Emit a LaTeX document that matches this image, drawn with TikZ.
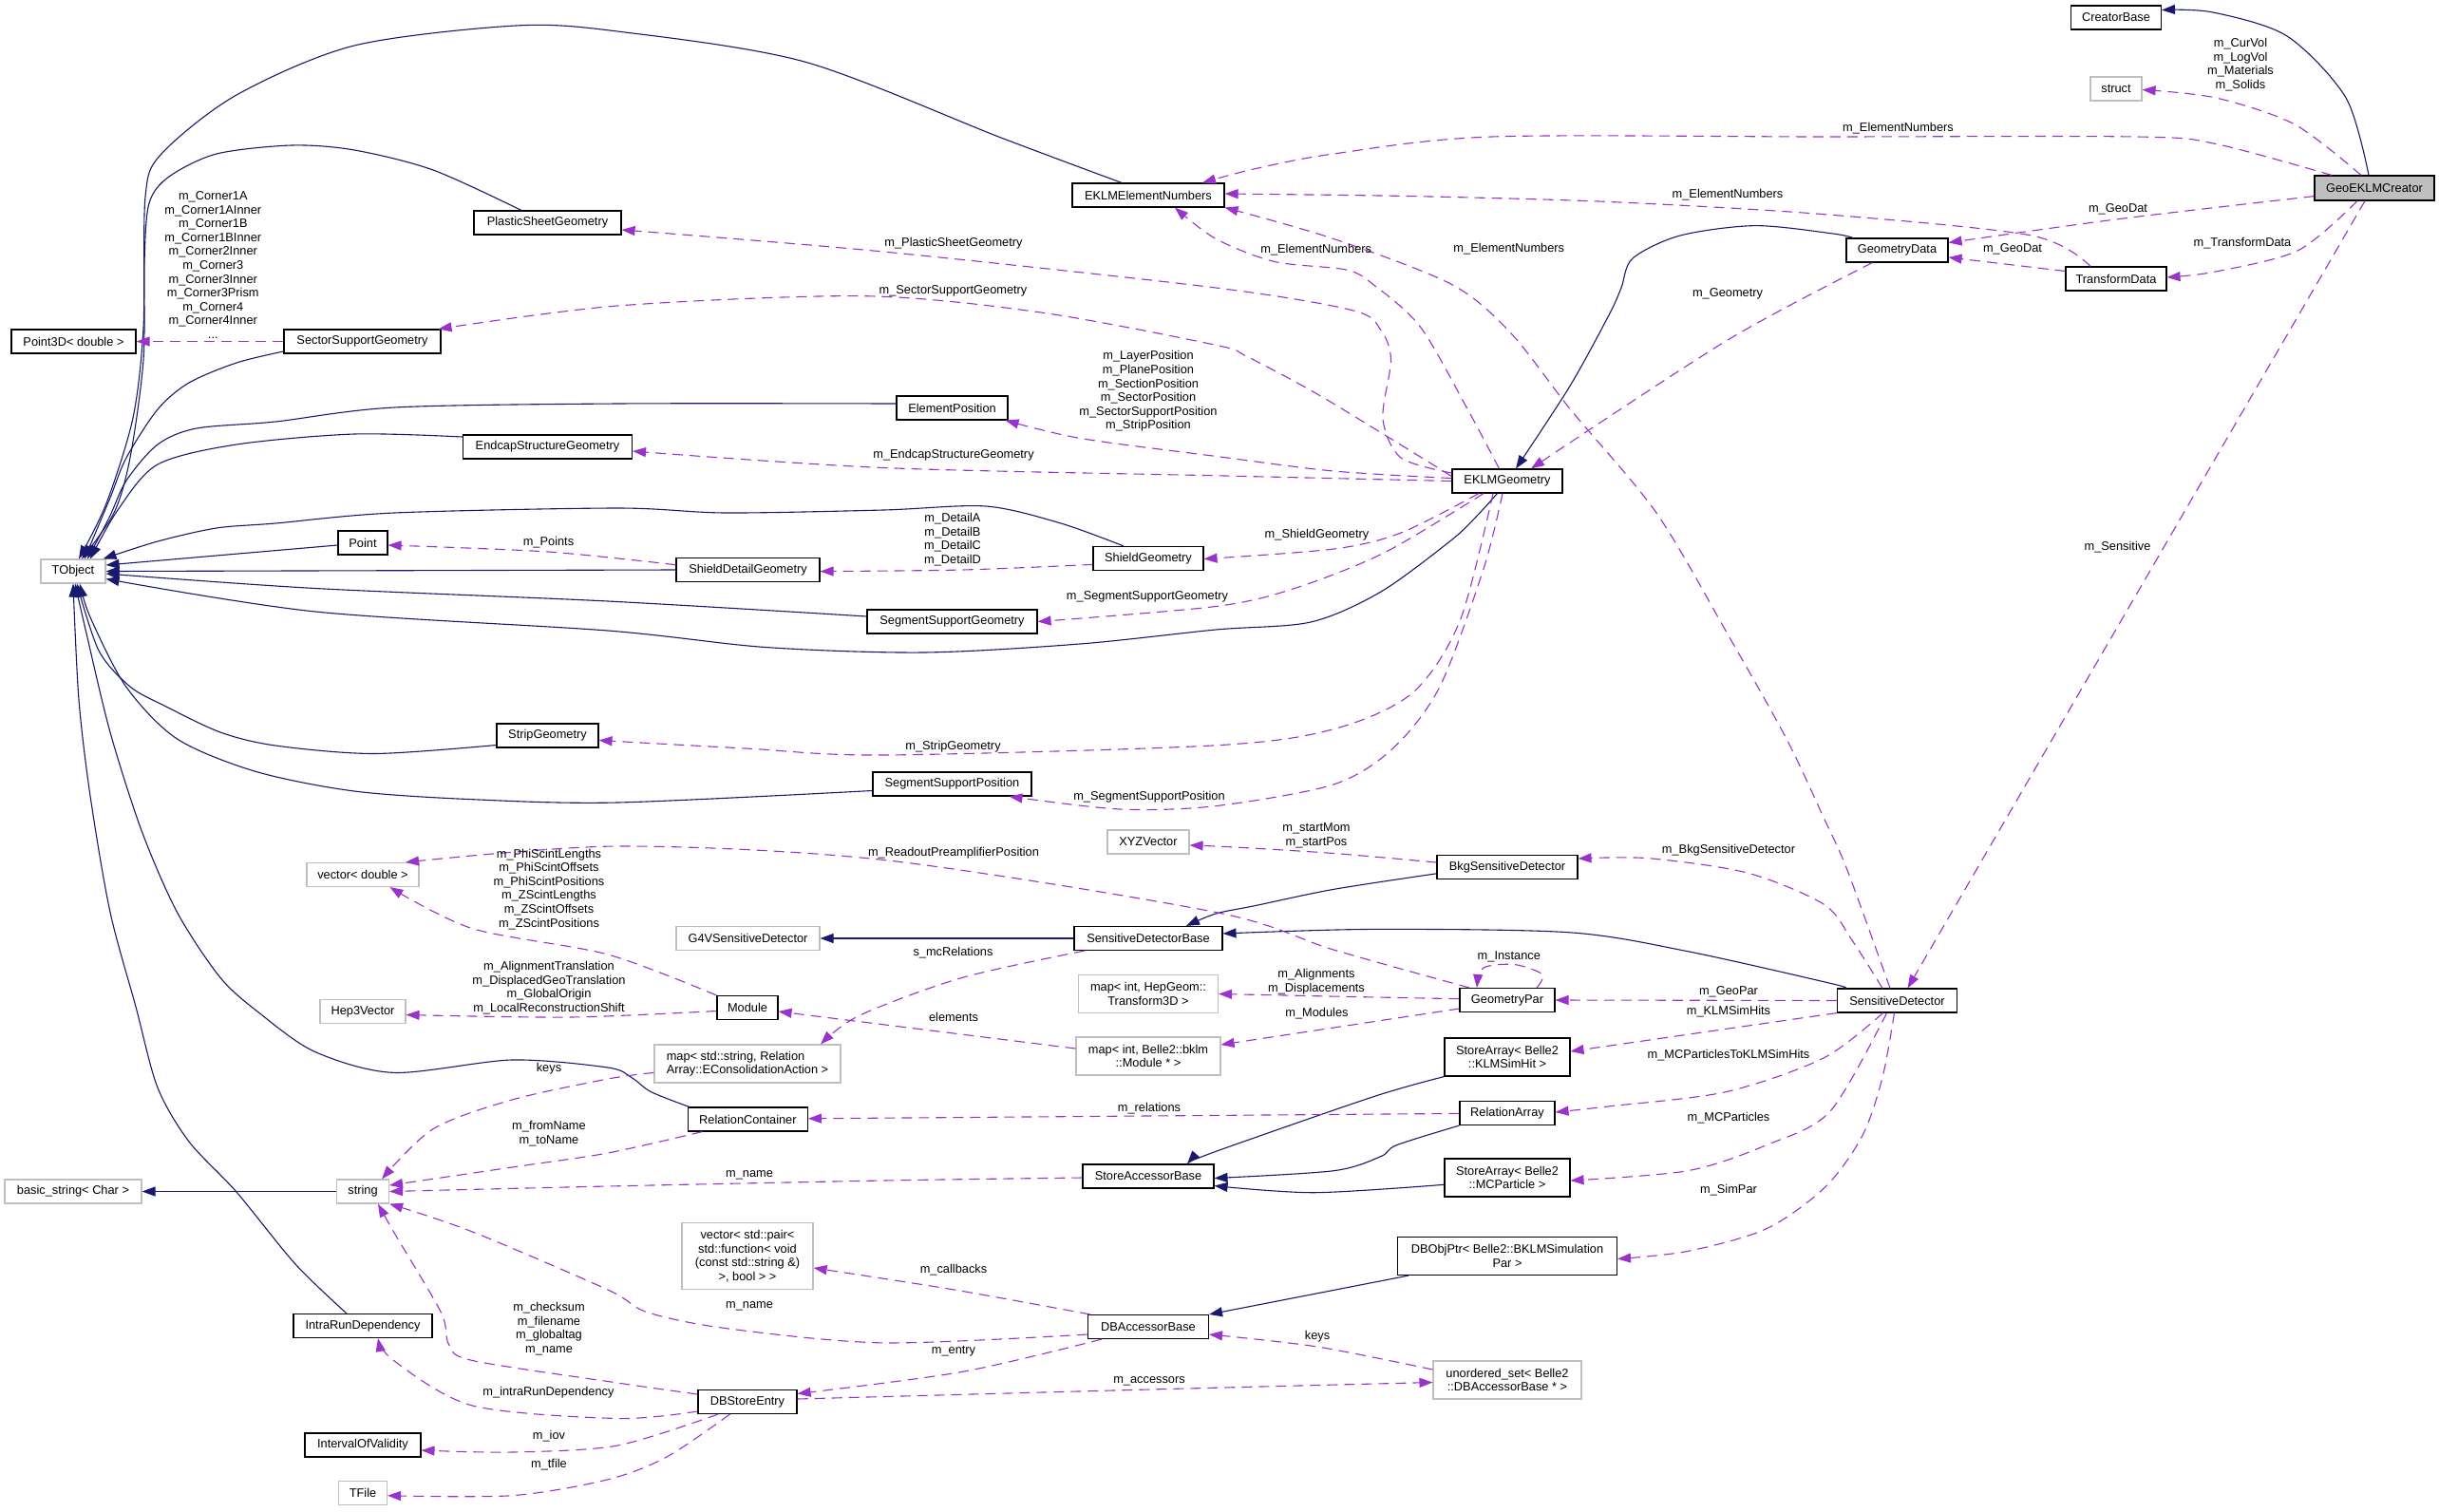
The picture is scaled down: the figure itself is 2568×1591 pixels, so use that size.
\documentclass[tikz,border=0pt]{standalone}
\usepackage{fontspec}
\setmainfont{Liberation Sans}
\usetikzlibrary{arrows.meta}
\definecolor{navy}{HTML}{191970}
\definecolor{orch}{HTML}{9A32CD}
\definecolor{gbord}{HTML}{BFBFBF}
\begin{document}
\begin{tikzpicture}[x=1pt,y=-1pt,font=\fontsize{12.8}{14.6}\selectfont,
  cls/.style={draw=black,line width=1.1pt,fill=white,inner sep=0pt,align=center,minimum height=25pt},
  ext/.style={draw=gbord,line width=1.1pt,fill=white,inner sep=0pt,align=center,minimum height=25pt},
  inh/.style={draw=navy,line width=1.1pt,-{Triangle[length=14pt,width=10pt]}},
  use/.style={draw=orch,line width=1.1pt,dash pattern=on 11pt off 7pt,-{Triangle[length=14pt,width=10pt]}},
  lab/.style={inner sep=0pt,align=center}]
\fill[white] (0,0) rectangle (2568,1591);
\useasboundingbox (0,0) rectangle (2568,1591);
% ---------- nodes ----------
\node[cls,minimum width=95pt] (cb) at (2228,18.5) {CreatorBase};
\node[ext,minimum width=54pt] (st) at (2228,93.5) {struct};
\node[cls,fill=gbord,minimum width=126pt,minimum height=26pt] (geo) at (2500,198) {GeoEKLMCreator};
\node[cls,minimum width=160pt] (een) at (1209,205.5) {EKLMElementNumbers};
\node[cls,minimum width=107pt] (gd) at (1997.5,263.5) {GeometryData};
\node[cls,minimum width=106pt] (td) at (2228,293.5) {TransformData};
\node[cls,minimum width=155pt] (psg) at (576.5,234.5) {PlasticSheetGeometry};
\node[cls,minimum width=131pt] (p3d) at (77.5,359.5) {Point3D< double >};
\node[cls,minimum width=165pt] (ssg) at (381.5,359.5) {SectorSupportGeometry};
\node[cls,minimum width=117pt] (ep) at (1002.5,429.5) {ElementPosition};
\node[cls,minimum width=178pt] (esg) at (576.5,470.5) {EndcapStructureGeometry};
\node[cls,minimum width=116pt] (eg) at (1587,506.5) {EKLMGeometry};
\node[cls,minimum width=52pt] (pt) at (382,571.5) {Point};
\node[cls,minimum width=151pt] (sdg) at (787.5,600) {ShieldDetailGeometry};
\node[cls,minimum width=116pt] (sg) at (1209,588) {ShieldGeometry};
\node[ext,minimum width=68pt] (tob) at (77,601.5) {TObject};
\node[cls,minimum width=179pt] (sgg) at (1002.5,654.5) {SegmentSupportGeometry};
\node[cls,minimum width=107pt] (strip) at (576.5,774.5) {StripGeometry};
\node[cls,minimum width=167pt] (ssp) at (1002.5,825.5) {SegmentSupportPosition};
\node[ext,minimum width=86pt] (xyz) at (1209,886.5) {XYZVector};
\node[cls,minimum width=148pt] (bkg) at (1587,913) {BkgSensitiveDetector};
\node[ext,minimum width=118pt] (vd) at (382,921) {vector< double >};
\node[ext,minimum width=151pt] (g4) at (787.5,988) {G4VSensitiveDetector};
\node[cls,minimum width=156pt] (sdb) at (1209,988) {SensitiveDetectorBase};
\node[cls,minimum width=100pt] (gp) at (1587,1053) {GeometryPar};
\node[ext,minimum width=147pt,minimum height=40pt] (mht) at (1209,1046.5) {map< int, HepGeom::\\Transform3D >};
\node[cls,minimum width=126pt] (sd) at (1997.5,1053.5) {SensitiveDetector};
\node[ext,minimum width=90pt] (h3v) at (382,1065) {Hep3Vector};
\node[cls,minimum width=64pt] (mod) at (787,1061) {Module};
\node[cls,minimum width=132pt,minimum height=40pt] (sak) at (1587,1113) {StoreArray< Belle2\\::KLMSimHit >};
\node[ext,align=left,minimum width=196pt,minimum height=40pt] (mrel) at (787,1120) {map< std::string, Relation\\Array::EConsolidationAction >};
\node[ext,minimum width=152pt,minimum height=40pt] (mbk) at (1209,1112) {map< int, Belle2::bklm\\::Module * >};
\node[cls,minimum width=126pt] (rc) at (787.4,1178.5) {RelationContainer};
\node[cls,minimum width=100pt] (ra) at (1587,1172) {RelationArray};
\node[cls,minimum width=132pt,minimum height=40pt] (smc) at (1587,1240) {StoreArray< Belle2\\::MCParticle >};
\node[ext,minimum width=144pt] (bs) at (77,1254.5) {basic\_string< Char >};
\node[ext,minimum width=55pt] (str) at (382,1254.5) {string};
\node[cls,minimum width=138pt] (sab) at (1209,1238.5) {StoreAccessorBase};
\node[cls,minimum width=231pt,minimum height=40pt] (dbo) at (1587,1322.5) {DBObjPtr< Belle2::BKLMSimulation\\Par >};
\node[ext,minimum width=138pt,minimum height=70pt] (vp) at (787,1322.5) {vector< std::pair<\\std::function< void\\(const std::string \&)\\>, bool > >};
\node[cls,minimum width=146pt] (ird) at (382,1396) {IntraRunDependency};
\node[cls,minimum width=127pt] (dba) at (1209,1397) {DBAccessorBase};
\node[cls,minimum width=104pt] (dbs) at (787,1476) {DBStoreEntry};
\node[ext,minimum width=156pt,minimum height=40pt] (us) at (1587,1453) {unordered\_set< Belle2\\::DBAccessorBase * >};
\node[cls,minimum width=122pt] (iov) at (382,1521.5) {IntervalOfValidity};
\node[ext,minimum width=51pt] (tf) at (382,1572) {TFile};
% ---------- inheritance ----------
\draw[inh] plot[smooth] coordinates {([xshift=-6pt]geo.north) (2470,103) (2408,38) (2330,13) ([yshift=8pt]cb.east)};
\draw[inh] plot[smooth] coordinates {([xshift=-28pt]een.north) (1054,145) (847,65) (650,33) (543,27) (373,48) (249,100) (170,162) (153,207) (151,345) (140,440) (112,530) ([xshift=6pt]tob.north)};
\draw[inh] plot[smooth] coordinates {([xshift=-27.5pt]psg.north) (456,179) (373,158) (307,153) (228,162) (178,186) (157,214) (152,276) (151,379) (137,482) (120,540) ([xshift=9pt]tob.north)};
\draw[inh] plot[smooth] coordinates {([yshift=-10.5pt]ssg.west) (249,382) (199,403) (166,431) (133,482) (116,524) ([xshift=12pt]tob.north)};
\draw[inh] plot[smooth] coordinates {([yshift=4.5pt]ep.west) (650,425) (415,429) (290,444) (207,451) (166,468) (133,506) (115,545) ([xshift=15pt]tob.north)};
\draw[inh] plot[smooth] coordinates {([yshift=10.5pt]esg.west) (373,457) (249,468) (166,489) (124,537) ([xshift=18pt]tob.north)};
\draw[inh] plot[smooth] coordinates {([xshift=-26pt]sg.north) (1117,551) (1038,533) (930,537) (764,540) (650,535) (415,540) (290,551) (228,556) (166,570) ([xshift=-3pt]tob.north east)};
\draw[inh] ([yshift=-2.5pt]pt.west) -- ([yshift=6.5pt]tob.east);
\draw[inh] (sdg.west) -- (tob.east);
\draw[inh] plot[smooth] coordinates {([yshift=5.5pt]sgg.west) (640,633) (332,619.5) ([yshift=-2.5pt]tob.east)};
\draw[inh] plot[smooth] coordinates {([xshift=-10.6pt]eg.south) (1558,540) (1529,568) (1454,623) (1380,655) (1280,663) (1137,678) (972,687) (806,681.5) (640,664) (332,644) ([yshift=-8pt]tob.east)};
\draw[inh] plot[smooth] coordinates {([yshift=-10pt]strip.west) (394,793.5) (290,785) (232,771) (174,743.5) (137,723) (104,685) ([xshift=4pt]tob.south)};
\draw[inh] plot[smooth] coordinates {([yshift=-7pt]ssp.west) (650,845) (497.5,841.7) (373,833) (269.5,812.4) (186.5,778) (132.7,723) (95.3,650.5) ([xshift=7pt]tob.south)};
\draw[inh] plot[smooth] coordinates {([xshift=-61.6pt]rc.north) (685.6,1149.7) (664.9,1134.5) (640,1124) (539,1116) (414.5,1129.4) (331.6,1107.4) (273.6,1067) (232,1029.4) (186.5,960.5) (149,874.4) (116,771) (91.2,667.8) ([xshift=2pt]tob.south)};
\draw[inh] plot[smooth] coordinates {([xshift=-17pt]ird.north) (311,1331) (248.7,1254.7) (199,1202) (165.8,1144.7) (143,1060) (116,960.5) (95.3,840) (83,736.6) (tob.south)};
\draw[inh] plot[smooth] coordinates {([xshift=-46.5pt]gd.north) (1930,246) (1848,237.6) (1769,248) (1719,272) (1707,303) (1694.6,330.6) (1653,406.4) ([xshift=9pt]eg.north)};
\draw[inh] (sdb.west) -- (g4.east);
\draw[inh] plot[smooth] coordinates {([yshift=-6.8pt]bkg.west) (1404,936.4) (1321.5,953.6) (1280,962) ([xshift=40pt]sdb.north)};
\draw[inh] plot[smooth] coordinates {([xshift=-57pt]sd.north) (1930,1036) (1777.5,1001.8) (1653,981.8) (1445.8,978.4) ([yshift=5pt]sdb.east)};
\draw[inh] plot[smooth] coordinates {(sak.south west) (1445.8,1154.8) (1280,1212.4) ([xshift=41pt]sab.north)};
\draw[inh] plot[smooth] coordinates {(ra.south west) (1470.7,1205.6) (1454,1217.5) (1404.4,1232.7) ([yshift=-2pt]sab.east)};
\draw[inh] plot[smooth] coordinates {([yshift=-7.3pt]smc.west) (1383.6,1255.7) ([yshift=-10pt]sab.east)};
\draw[inh] ([xshift=-104pt]dbo.south) -- (dba.north east);
\draw[inh] (str.west) -- (bs.east);
% ---------- usage ----------
\draw[use] plot[smooth] coordinates {([xshift=-14pt]geo.north) (2416,131) (2333,103) ([yshift=-1pt]st.east)};
\draw[use] plot[smooth] coordinates {([xshift=-45pt]geo.north) (2333,151.5) (2250,144) (1920,144) (1570,144) (1404,162) (1320,178) ([xshift=57pt]een.north)};
\draw[use] plot[smooth] coordinates {([yshift=-8.6pt]geo.west) (2230,230.7) ([yshift=8pt]gd.east)};
\draw[use] plot[smooth] coordinates {([xshift=-18pt]geo.south) (2420,263.5) (2333,286) ([yshift=1.5pt]td.east)};
\draw[use] ([xshift=-10pt]geo.south) -- ([xshift=11pt]sd.north);
\draw[use] plot[smooth] coordinates {([xshift=-27pt]td.north) (2139,248) (1920,225.6) (1694.6,212.5) (1487,206.6) ([yshift=1.5pt]een.east)};
\draw[use] ([yshift=8pt]td.west) -- ([yshift=-7.5pt]gd.east);
\draw[use] plot[smooth] coordinates {([xshift=-26pt]gd.south) (1819,358) ([xshift=25pt]eg.north)};
\draw[use] plot[smooth] coordinates {([xshift=-8.5pt]eg.north) (1545,430.5) (1495.6,344.4) (1446,299.6) (1417,284) (1342,275.5) (1280,251.4) ([xshift=28pt]een.south)};
\draw[use] plot[smooth] coordinates {([xshift=-7.5pt]sd.north) (1944.8,915.7) (1920,860.6) (1881,778) (1819,667.7) (1744,540) (1653,430.5) (1591,351) (1528.7,299.6) (1404,251.4) (een.south east)};
\draw[use] plot[smooth] coordinates {([yshift=8.5pt]eg.west) (1475,482) (1456,441) (1464.5,378.8) (1454,347.8) (1425,327) (1280,303) (930,265) ([yshift=-7.5pt]psg.east)};
\draw[use] plot[smooth] coordinates {([yshift=5pt]eg.west) (1458,458) (1383.6,413) (1313,375.4) (1280,363.3) (1096,329) (909.5,311.7) (650,322) ([xshift=-3pt]ssg.north east)};
\draw[use] plot[smooth] coordinates {([yshift=3pt]eg.west) (1404,496) (1280,480.4) (1137.5,461.5) ([xshift=-3pt]ep.south east)};
\draw[use] plot[smooth] coordinates {(eg.west) (1290,501) (930,492.5) ([yshift=-4.5pt]esg.east)};
\draw[use] plot[smooth] coordinates {([xshift=-30pt]eg.south) (1475,561) (1404.4,578) ([yshift=-0.5pt]sg.east)};
\draw[use] plot[smooth] coordinates {([xshift=-25pt]eg.south) (1458,581.7) (1363,619.5) (1280,638.5) (sgg.east)};
\draw[use] plot[smooth] coordinates {([xshift=-15pt]eg.south) (1537,654) (1487,729.7) (1404.4,767.6) (1280,784.8) (930,795) (785,788) ([yshift=-5pt]strip.east)};
\draw[use] plot[smooth] coordinates {([xshift=-5pt]eg.south) (1562,599) (1516,722.9) (1466.5,788) (1404,826) (1280,848.6) (1179,852) ([xshift=60pt]ssp.south)};
\draw[use] plot[smooth] coordinates {([xshift=-15.5pt]sd.north) (1950,990) (1920,952) (1839.6,919) (1736,903.7) ([yshift=9pt]bkg.east)};
\draw[use] (sd.west) -- (gp.east);
\draw[use] (sd.south west) -- ([yshift=6pt]sak.east);
\draw[use] plot[smooth] coordinates {([xshift=-15pt]sd.south) (1920,1114) (1817,1149.7) (1693,1165) ([yshift=1pt]ra.east)};
\draw[use] plot[smooth] coordinates {([xshift=-11pt]sd.south) (1927,1170) (1860,1205.6) (1777,1232.7) ([yshift=-3pt]smc.east)};
\draw[use] plot[smooth] coordinates {([xshift=-3pt]sd.south) (1982,1134.5) (1961,1195.5) (1922,1249.6) (1860,1293.7) (1777,1317.4) ([yshift=-3pt]dbo.east)};
\draw[use] plot[smooth] coordinates {([yshift=5pt]bkg.west) (1404.4,898.5) (1300,892) ([yshift=-3.5pt]xyz.east)};
\draw[use] plot[smooth] coordinates {([xshift=-40pt]gp.north) (1404,1000) (1280,960.5) (930,905.4) (650,891) ([xshift=45pt]vd.north)};
\draw[use] plot[smooth] coordinates {([xshift=31pt]gp.north) (1624,1026) (1595,1015.6) (1562,1019) ([xshift=-32pt]gp.north)};
\draw[use] plot[smooth] coordinates {([yshift=1.3pt]gp.west) (1400,1049) (mht.east)};
\draw[use] ([yshift=-9pt]gp.west) -- ([yshift=12pt]mbk.east);
\draw[use] plot[smooth] coordinates {(mod.north west) (640,1005) (497.5,977.7) ([xshift=28.4pt]vd.south)};
\draw[use] plot[smooth] coordinates {([yshift=-3.5pt]mod.west) (600,1071) ([yshift=-3.5pt]h3v.east)};
\draw[use] ([yshift=8pt]mbk.west) -- ([yshift=-4pt]mod.east);
\draw[use] plot[smooth] coordinates {([xshift=-67pt]sdb.south) (1013,1029.4) (905.3,1069) ([xshift=77pt]mrel.north)};
\draw[use] plot[smooth] coordinates {([yshift=-9.4pt]mrel.west) (640,1136) (539,1158) (456,1188.7) ([xshift=20pt]str.north)};
\draw[use] ([yshift=-0.4pt]ra.west) -- ([yshift=0.7pt]rc.east);
\draw[use] plot[smooth] coordinates {([xshift=-48pt]rc.south) (640,1214) (539,1229) ([yshift=6.5pt]str.east)};
\draw[use] plot[smooth] coordinates {([yshift=-1.5pt]sab.west) (930,1243) (640,1249) (str.east)};
\draw[use] plot[smooth] coordinates {([yshift=-8pt]dba.west) (930,1413.9) (764.4,1398.6) (681.5,1381.7) (640,1358) (497.5,1297) (str.south east)};
\draw[use] plot[smooth] coordinates {([xshift=-61pt]dba.north) (1004.8,1358) ([yshift=-12.5pt]vp.east)};
\draw[use] plot[smooth] coordinates {([xshift=-49pt]dba.south) (1013,1444.4) ([yshift=8.6pt]dbs.east)};
\draw[use] plot[smooth] coordinates {([yshift=8pt]dbs.west) (650,1456) (497.5,1432.5) (472.6,1415.6) (464.3,1381.7) (414.5,1297) ([xshift=16pt]str.south)};
\draw[use] plot[smooth] coordinates {([yshift=-10pt]dbs.west) (650,1493.5) (497.5,1480) (414.5,1432.5) ([xshift=16pt]ird.south)};
\draw[use] plot[smooth] coordinates {([xshift=-31pt]dbs.south) (650,1522) (539,1529) ([yshift=-5.5pt]iov.east)};
\draw[use] plot[smooth] coordinates {([xshift=-18.5pt]dbs.south) (702,1534) (640,1557.8) (539,1574.7) ([yshift=-2.7pt]tf.east)};
\draw[use] plot[smooth] coordinates {([yshift=3pt]dbs.east) (1210,1463) ([yshift=-2.5pt]us.west)};
\draw[use] plot[smooth] coordinates {([yshift=11pt]us.west) (1387,1418) ([yshift=-8pt]dba.east)};
\draw[use] (ssg.west) -- (p3d.east);
\draw[use] plot[smooth] coordinates {([yshift=-6.4pt]sg.west) (1013,600) ([yshift=-1.6pt]sdg.east)};
\draw[use] plot[smooth] coordinates {([yshift=5.3pt]sdg.west) (577,581) ([yshift=-2.5pt]pt.east)};
% ---------- labels ----------
\node[lab] (l1) at (2359,68) {m\_CurVol\\m\_LogVol\\m\_Materials\\m\_Solids};
\node[lab] (l2) at (1998.5,135) {m\_ElementNumbers};
\node[lab] (l3) at (2230,220) {m\_GeoDat};
\node[lab] (l4) at (1819,205) {m\_ElementNumbers};
\node[lab] (l5) at (2119,262.6) {m\_GeoDat};
\node[lab] (l6) at (2361,256.6) {m\_TransformData};
\node[lab] (l7) at (1004,256.6) {m\_PlasticSheetGeometry};
\node[lab] (l8) at (1385.7,263.5) {m\_ElementNumbers};
\node[lab] (l9) at (1588.8,262.4) {m\_ElementNumbers};
\node[lab] (l10) at (1819,309) {m\_Geometry};
\node[lab] (l11) at (1003.5,306.5) {m\_SectorSupportGeometry};
\node[lab] (l12) at (224.3,279) {m\_Corner1A\\m\_Corner1AInner\\m\_Corner1B\\m\_Corner1BInner\\m\_Corner2Inner\\m\_Corner3\\m\_Corner3Inner\\m\_Corner3Prism\\m\_Corner4\\m\_Corner4Inner\\...};
\node[lab] (l13) at (1209,412) {m\_LayerPosition\\m\_PlanePosition\\m\_SectionPosition\\m\_SectorPosition\\m\_SectorSupportPosition\\m\_StripPosition};
\node[lab] (l14) at (1004,479.4) {m\_EndcapStructureGeometry};
\node[lab] (l15) at (577.5,571.3) {m\_Points};
\node[lab] (l16) at (1003,568.2) {m\_DetailA\\m\_DetailB\\m\_DetailC\\m\_DetailD};
\node[lab] (l17) at (1386.5,562.7) {m\_ShieldGeometry};
\node[lab] (l18) at (1208,628.8) {m\_SegmentSupportGeometry};
\node[lab] (l19) at (2229.5,575.8) {m\_Sensitive};
\node[lab] (l20) at (1003.5,786.6) {m\_StripGeometry};
\node[lab] (l21) at (1210,839.3) {m\_SegmentSupportPosition};
\node[lab] (l22) at (1386,880) {m\_startMom\\m\_startPos};
\node[lab] (l23) at (1820,895) {m\_BkgSensitiveDetector};
\node[lab] (l24) at (1004,898.5) {m\_ReadoutPreamplifierPosition};
\node[lab] (l25) at (578,936.2) {m\_PhiScintLengths\\m\_PhiScintOffsets\\m\_PhiScintPositions\\m\_ZScintLengths\\m\_ZScintOffsets\\m\_ZScintPositions};
\node[lab] (l26) at (1003.5,1003.5) {s\_mcRelations};
\node[lab] (l27) at (1588.8,1007.7) {m\_Instance};
\node[lab] (l28) at (1386,1033.5) {m\_Alignments\\m\_Displacements};
\node[lab] (l29) at (1820,1044.5) {m\_GeoPar};
\node[lab] (l30) at (578,1040.3) {m\_AlignmentTranslation\\m\_DisplacedGeoTranslation\\m\_GlobalOrigin\\m\_LocalReconstructionShift};
\node[lab] (l31) at (1386.5,1067) {m\_Modules};
\node[lab] (l32) at (1820,1065) {m\_KLMSimHits};
\node[lab] (l33) at (1004,1070.5) {elements};
\node[lab] (l34) at (1820,1111.5) {m\_MCParticlesToKLMSimHits};
\node[lab] (l35) at (578,1125) {keys};
\node[lab] (l36) at (1210,1166.7) {m\_relations};
\node[lab] (l37) at (1820,1177) {m\_MCParticles};
\node[lab] (l38) at (578,1193.8) {m\_fromName\\m\_toName};
\node[lab] (l39) at (789,1237) {m\_name};
\node[lab] (l40) at (1820,1253) {m\_SimPar};
\node[lab] (l41) at (1004,1337) {m\_callbacks};
\node[lab] (l42) at (789,1375.6) {m\_name};
\node[lab] (l43) at (578,1399.3) {m\_checksum\\m\_filename\\m\_globaltag\\m\_name};
\node[lab] (l44) at (1387,1407.4) {keys};
\node[lab] (l45) at (1004,1423) {m\_entry};
\node[lab] (l46) at (1210,1454.5) {m\_accessors};
\node[lab] (l47) at (577.5,1466.4) {m\_intraRunDependency};
\node[lab] (l48) at (578,1511.7) {m\_iov};
\node[lab] (l49) at (578,1542.2) {m\_tfile};
\end{tikzpicture}
\end{document}
